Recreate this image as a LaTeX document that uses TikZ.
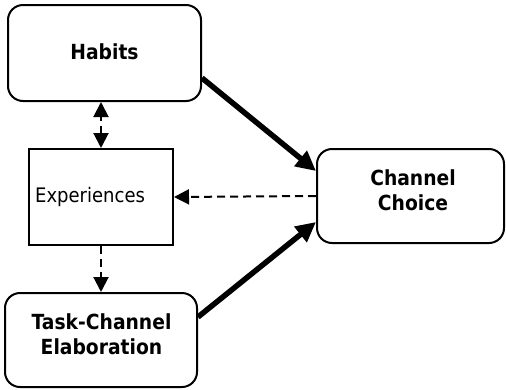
\documentclass[tikz,border=0pt]{standalone}
\usepackage{fontspec}
\setmainfont{DejaVu Sans}
\newfontfamily\lblfont[FakeStretch=0.9]{DejaVu Sans}
\usetikzlibrary{arrows.meta}
\begin{document}
\begin{tikzpicture}[x=1pt,y=-1pt,
  box/.style={draw=black, line width=2pt, fill=white, inner sep=0pt, align=center},
  roundbox/.style={box, rounded corners=15pt},
  label/.style={font=\lblfont\fontsize{20.8}{25}\selectfont\bfseries, align=center, inner sep=0pt},
  thickarrow/.style={line width=5.5pt, -{Triangle[length=20pt,width=19pt]}},
  dasharrow/.style={line width=2pt, dash pattern=on 8pt off 5pt, -{Triangle[length=15pt,width=15pt]}},
]
\useasboundingbox (0,0) rectangle (506,389);

% boxes
\node[roundbox, minimum width=193pt, minimum height=96pt] (habits) at (104.5,53) {};
\node[box, minimum width=144pt, minimum height=96pt] (exp) at (101,197) {};
\node[roundbox, minimum width=192pt, minimum height=94pt] (task) at (101,340) {};
\node[roundbox, minimum width=187pt, minimum height=94pt] (chan) at (410.5,196) {};

% texts
\node[label] (habitsT) at (104.5,52) {Habits};
\node[anchor=west, inner sep=0pt, font=\lblfont\fontsize{20}{24}\selectfont] (expT) at (35,197) {Experiences};
\node[label] (taskT) at (101.5,334) {Task-Channel\\Elaboration};
\node[label] (chanT) at (413,190) {Channel\\Choice};

% connectors
\draw[thickarrow] ([yshift=24pt]habits.south east) -- ([yshift=25pt]chan.west);
\draw[thickarrow] ([yshift=23pt]task.east) -- ([yshift=-26pt]chan.west);
\draw[dasharrow] (chan.west) -- (exp.east);
\draw[dasharrow, {Triangle[length=15pt,width=15pt]}-{Triangle[length=15pt,width=15pt]}] (exp.north) -- (exp.north |- habits.south);
\draw[dasharrow] (exp.south) -- (exp.south |- task.north);
\end{tikzpicture}
\end{document}
